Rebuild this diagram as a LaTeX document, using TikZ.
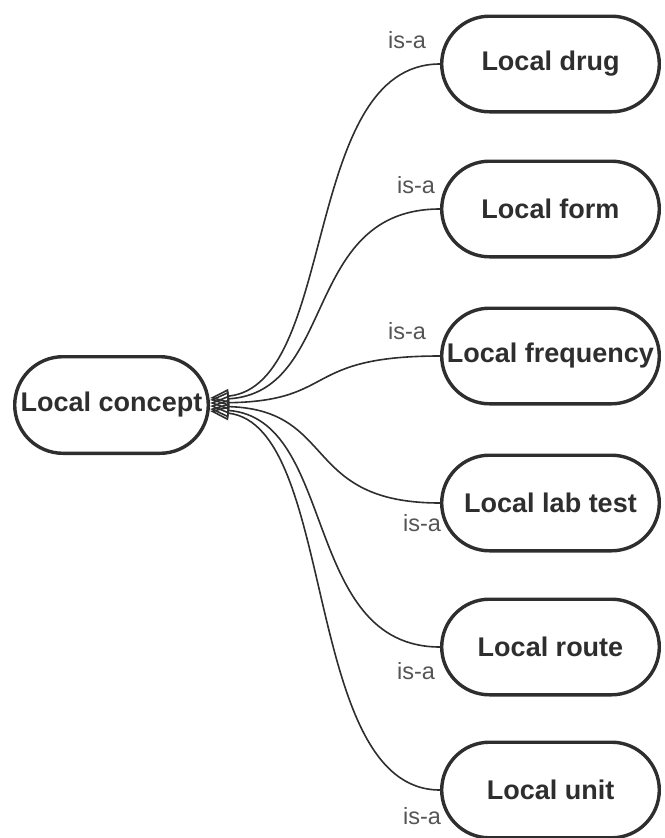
\documentclass[tikz,border=0pt]{standalone}
\usepackage{fontspec}
\setmainfont{Liberation Sans}
\usetikzlibrary{arrows.meta,shapes.misc,calc}
\definecolor{ink}{HTML}{2E2E2E}
\definecolor{lbl}{HTML}{555555}
\begin{document}
\begin{tikzpicture}[x=1pt,y=-1pt,
  pill/.style={rounded rectangle, draw=ink, line width=3.4pt, fill=white, text=ink,
    font=\bfseries\fontsize{27}{31}\selectfont, minimum height=95.6pt, inner sep=0pt},
  sub/.style={pill, minimum width=217.6pt},
  isa/.style={draw=ink, line width=1.6pt, -{Triangle[open,length=19pt,width=14pt]}},
  isalbl/.style={text=lbl, font=\fontsize{23.5}{27}\selectfont, inner sep=0pt}]
\useasboundingbox (0,0) rectangle (664,838);

\node[pill, minimum width=193.6pt, minimum height=96.6pt] (concept) at (111.5,405) {Local concept};

\node[sub] (drug) at (550.5,64)  {Local drug};
\node[sub] (form) at (550.5,209) {Local form};
\node[sub] (freq) at (550.5,356) {Local frequency};
\node[sub] (lab)  at (550.5,503) {Local lab test};
\node[sub] (route) at (550.5,647) {Local route};
\node[sub] (unit) at (550.5,790) {Local unit};

\draw[isa] (drug.west) .. controls +(-139,0) and +(128,-13) .. ($(concept.east)+(0,-7)$);
\draw[isa] (form.west) .. controls +(-139,0) and +(128,-8) .. ($(concept.east)+(0,-5)$);
\draw[isa] (freq.west) .. controls +(-139,0) and +(128,-2) .. ($(concept.east)+(0,-2)$);
\draw[isa] (lab.west) .. controls +(-139,0) and +(128,4) .. ($(concept.east)+(0,1)$);
\draw[isa] (route.west) .. controls +(-139,0) and +(128,10) .. ($(concept.east)+(0,4)$);
\draw[isa] (unit.west) .. controls +(-139,0) and +(128,15) .. ($(concept.east)+(0,6)$);

\node[isalbl] (l1) at (407,40)  {is-a};
\node[isalbl] (l2) at (416,185) {is-a};
\node[isalbl] (l3) at (407,331) {is-a};
\node[isalbl] (l4) at (422,523) {is-a};
\node[isalbl] (l5) at (416,671) {is-a};
\node[isalbl] (l6) at (422,816) {is-a};
\end{tikzpicture}
\end{document}
